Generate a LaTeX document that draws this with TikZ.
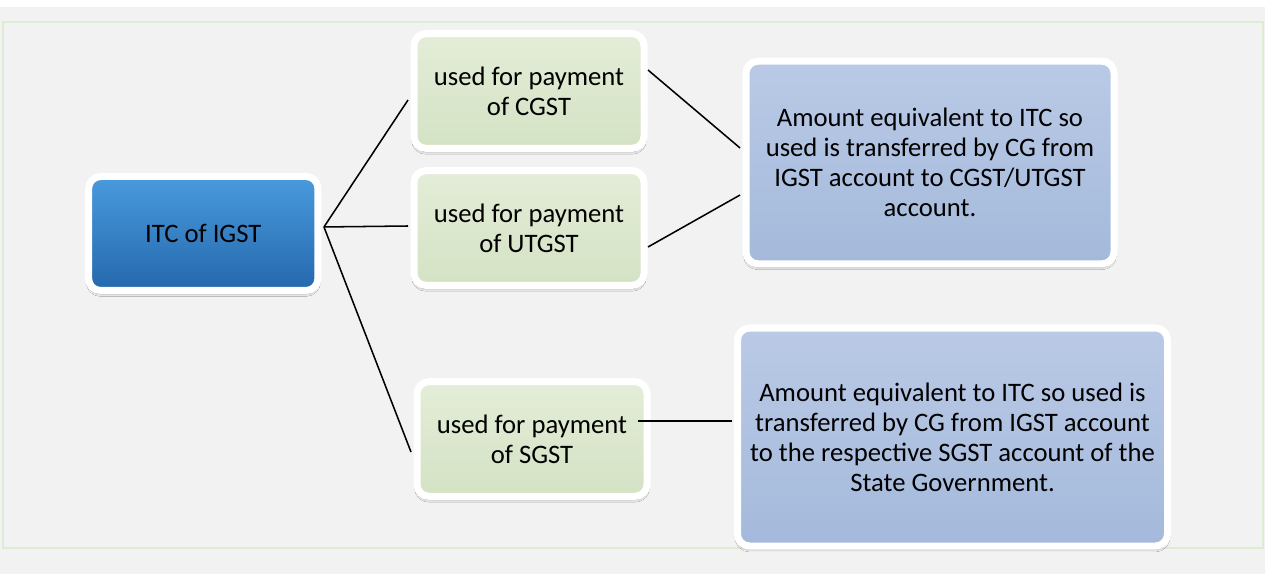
\documentclass[tikz,border=0pt]{standalone}
\usepackage{fontspec}
\setmainfont{Carlito}
\usetikzlibrary{shadows.blur}
\usetikzlibrary{calc}

\definecolor{panelgray}{RGB}{242,242,242}
\definecolor{panelline}{RGB}{222,236,212}
\definecolor{itctop}{RGB}{74,154,222}
\definecolor{itcbot}{RGB}{36,104,172}
\definecolor{paytop}{RGB}{228,237,216}
\definecolor{paybot}{RGB}{212,226,196}
\definecolor{cgtop}{RGB}{186,202,230}
\definecolor{cgbot}{RGB}{164,185,219}

\tikzset{
  basebox/.style={draw=white, line width=5.25pt, rounded corners=9pt, align=center,
    font=\fontsize{20}{22.5}\selectfont, text=black, outer sep=4.5pt,
    blur shadow={shadow xshift=0pt, shadow yshift=-2.5pt, shadow blur steps=6, shadow opacity=35}},
  itcbox/.style={basebox, top color=itctop, bottom color=itcbot, minimum width=172pt, minimum height=85.5pt},
  paybox/.style={basebox, top color=paytop, bottom color=paybot, minimum width=172.5pt, minimum height=86pt},
  cgbox/.style={basebox, top color=cgtop, bottom color=cgbot},
  link/.style={line width=1.15pt, black}
}

\begin{document}
\begin{tikzpicture}[x=0.75pt,y=0.75pt,yscale=-1,xscale=1]
\useasboundingbox (0,0) rectangle (1265,574);

%Background
\fill [white] (0,0) rectangle (1265,574);
\fill [panelgray] (0,7) rectangle (1265,574);
\draw [panelline, line width=0.8pt] (3,22) rectangle (1263,548);

% Boxes
\node (itc) at (203.3,233.5) [itcbox] {ITC of IGST};
\node (cgst) at (529,91) [paybox] {used for payment\\of CGST};
\node (utgst) at (529,228) [paybox] {used for payment\\of UTGST};
\node (sgst) at (532,439) [paybox] {used for payment\\of SGST};
\node (trans1) at (930,162.5) [cgbox, minimum width=276pt, minimum height=152pt]
  {Amount equivalent to ITC so\\used is transferred by CG from\\IGST account to CGST/UTGST\\account.};
\node (trans2) at (952.5,437) [cgbox, minimum width=322.5pt, minimum height=163.5pt]
  {Amount equivalent to ITC so used is\\transferred by CG from IGST account\\to the respective SGST account of the\\State Government.};

% Straight Lines (shifts follow yscale=-1: positive yshift goes down)
\draw [link] ([yshift=-4.9pt]itc.east) -- ([yshift=6.75pt]cgst.west);
\draw [link] ([yshift=-4.9pt]itc.east) -- ([yshift=-1.5pt]utgst.west);
\draw [link] ([yshift=-4.9pt]itc.east) -- ([yshift=9.75pt]sgst.west);
\draw [link] ([xshift=-1.5pt,yshift=-15.75pt]cgst.east) -- ([yshift=-10.9pt]trans1.west);
\draw [link] ([xshift=-1.5pt,yshift=14.25pt]utgst.east) -- ([yshift=24.4pt]trans1.west);
\draw [link] ([xshift=-11pt,yshift=-13.5pt]sgst.east) -- ([yshift=-12pt]trans2.west);

\end{tikzpicture}
\end{document}
